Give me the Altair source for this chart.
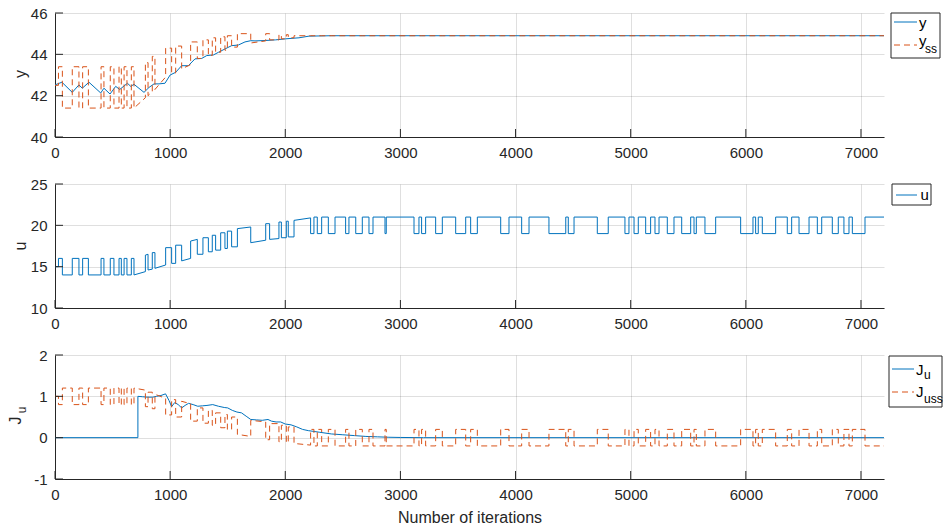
import altair as alt
import pandas as pd

# ---------------- axes ----------------
x_ticks = [0, 1000, 2000, 3000, 4000, 5000, 6000, 7000]
x_max = 7200
y_ticks = [40, 42, 44, 46]
u_ticks = [10, 15, 20, 25]
j_ticks = [-1, 0, 1, 2]

# ---------------- switching segments: start-up and transient phase ----------------
seg_t = [0, 30, 64, 150, 208, 240, 290, 400, 425, 480, 512, 556, 576, 600, 625, 663, 686,
         785, 808, 845, 868, 961, 1013, 1048, 1100, 1178, 1236, 1285, 1332, 1366, 1395, 1439,
         1476, 1497, 1534, 1584, 1700, 1830, 1864, 1945, 1966, 2009, 2026, 2076, 2220]

u_a = [15, 16, 14, 16, 14, 16, 14, 16, 14, 16, 14, 16, 14, 16, 14, 16,
       14.0, 16.4, 14.6, 16.7, 14.8, 17.3, 15.4, 17.6, 15.7, 18.1, 16.5, 18.5, 16.8, 18.8,
       17.0, 19.1, 17.2, 19.3, 17.4, 19.6, 17.9, 20.2, 18.3, 20.4, 18.5, 20.5, 18.6, 20.6]
u_b = [15, 16, 14, 16, 14, 16, 14, 16, 14, 16, 14, 16, 14, 16, 14, 16,
       14.4, 16.5, 14.7, 16.7, 15.2, 17.3, 15.4, 17.6, 16.0, 18.3, 16.5, 18.5, 16.8, 18.8,
       17.0, 19.1, 17.2, 19.3, 17.4, 19.8, 18.2, 20.2, 18.4, 20.4, 18.5, 20.5, 18.6, 20.9]

yss_a = [42.5, 43.4, 41.4, 43.4, 41.4, 43.4, 41.4, 43.4, 41.4, 43.4, 41.4, 43.4, 41.4, 43.4, 41.4, 43.4,
         41.4, 43.6, 42.0, 43.9, 42.3, 44.3, 43.1, 44.4, 43.3, 44.6, 43.8, 44.7, 43.95, 44.8,
         44.1, 44.85, 44.2, 44.9, 44.35, 45.0, 44.55, 45.0, 44.7, 44.95, 44.75, 44.95, 44.8, 44.9]
yss_b = [42.5, 43.4, 41.4, 43.4, 41.4, 43.4, 41.4, 43.4, 41.4, 43.4, 41.4, 43.4, 41.4, 43.4, 41.4, 43.4,
         41.9, 43.6, 42.2, 43.9, 42.9, 44.3, 43.1, 44.4, 43.5, 44.6, 43.8, 44.7, 43.95, 44.8,
         44.1, 44.85, 44.2, 44.9, 44.35, 45.0, 44.65, 45.0, 44.7, 44.95, 44.75, 44.95, 44.8, 44.9]

juss_a = [1.0, 0.8, 1.2, 0.8, 1.2, 0.8, 1.2, 0.8, 1.2, 0.8, 1.2, 0.8, 1.2, 0.8, 1.2, 0.8,
          1.2, 0.75, 1.1, 0.7, 1.05, 0.55, 0.92, 0.5, 0.88, 0.4, 0.72, 0.35, 0.66, 0.3,
          0.6, 0.24, 0.56, 0.2, 0.5, 0.08, 0.42, -0.05, 0.34, -0.1, 0.3, -0.12, 0.26, -0.14]
juss_b = [1.0, 0.8, 1.2, 0.8, 1.2, 0.8, 1.2, 0.8, 1.2, 0.8, 1.2, 0.8, 1.2, 0.8, 1.2, 0.8,
          1.15, 0.75, 1.1, 0.7, 0.95, 0.55, 0.92, 0.5, 0.82, 0.4, 0.72, 0.35, 0.66, 0.3,
          0.6, 0.24, 0.56, 0.2, 0.5, 0.03, 0.38, -0.05, 0.34, -0.1, 0.3, -0.12, 0.26, -0.18]

# ---------------- switching segments: steady phase (alternating, starting low) ----------------
late_t = [2220, 2249, 2278, 2316, 2374, 2432, 2524, 2553, 2612, 2669, 2727, 2762, 2866, 2877,
          3118, 3161, 3184, 3219, 3306, 3364, 3480, 3567, 3610, 3668, 3871, 3943, 4053, 4117,
          4290, 4436, 4458, 4508, 4710, 4805, 4950, 4985, 5029, 5066, 5130, 5173, 5211, 5246,
          5318, 5376, 5443, 5521, 5550, 5570, 5645, 5738, 5955, 6062, 6085, 6108, 6143, 6259,
          6360, 6398, 6462, 6549, 6621, 6659, 6751, 6803, 6852, 6896, 6925, 7035, 7200]
u_late = (19, 21)
yss_late = (44.9, 44.9)
juss_late = (0.2, -0.2)

# ---------------- measured output y and gradient J_u ----------------
y_x = [0, 60, 150, 208, 237, 295, 397, 425, 478, 527, 562, 629, 658, 686, 773, 817, 860, 903,
       955, 1000, 1048, 1100, 1158, 1216, 1274, 1318, 1376, 1420, 1476, 1534, 1592, 1650, 1700,
       1737, 1830, 1916, 2003, 2119, 2206, 2400, 7200]
y_v = [42.52, 42.65, 42.16, 42.52, 42.36, 42.65, 42.13, 42.36, 42.08, 42.45, 42.3, 42.6, 42.45,
       42.55, 42.16, 42.4, 42.57, 42.57, 42.6, 43.0, 43.13, 43.45, 43.45, 43.78, 43.8, 43.94,
       43.97, 44.1, 44.26, 44.42, 44.45, 44.6, 44.66, 44.65, 44.67, 44.7, 44.75, 44.8, 44.88,
       44.9, 44.9]

ju_x = [0, 720, 720, 760, 800, 850, 880, 920, 960, 990, 1013, 1040, 1070, 1100, 1130, 1160,
        1200, 1240, 1280, 1320, 1370, 1420, 1470, 1500, 1540, 1580, 1620, 1660, 1700, 1750,
        1800, 1850, 1880, 1920, 1960, 2000, 2050, 2100, 2150, 2200, 2250, 2300, 2400, 2500,
        2600, 2700, 2800, 2900, 3000, 3200, 7200]
ju_v = [0, 0, 1.0, 0.99, 0.98, 0.98, 1.0, 1.02, 1.06, 0.9, 0.75, 0.85, 0.8, 0.72, 0.78, 0.83,
        0.8, 0.76, 0.77, 0.78, 0.8, 0.76, 0.73, 0.72, 0.66, 0.62, 0.6, 0.52, 0.44, 0.43,
        0.42, 0.44, 0.4, 0.38, 0.38, 0.33, 0.31, 0.26, 0.2, 0.17, 0.15, 0.13, 0.09, 0.07,
        0.05, 0.03, 0.02, 0.01, 0.005, 0, 0]

# ---------------- styling ----------------
W, H = 829, 124
BLUE = "#0072BD"
ORANGE = "#D95319"
AX = "#262626"
FONT = "Liberation Sans"
DASH = [6, 4]


def step_frame(a, b, late):
    xs, vs = [], []
    for i in range(len(a)):
        xs += [seg_t[i], seg_t[i + 1]]
        vs += [a[i], b[i]]
    for k in range(len(late_t) - 1):
        lvl = late[k % 2]
        xs += [late_t[k], late_t[k + 1]]
        vs += [lvl, lvl]
    return pd.DataFrame({"x": xs, "v": vs, "i": list(range(len(xs)))})


def line_frame(xs, vs):
    return pd.DataFrame({"x": xs, "v": vs, "i": list(range(len(xs)))})


ONE = alt.Data(values=[{}])


def panel(series, ydom, yticks, xtitle, extras):
    xs = alt.Scale(domain=[0, x_max], nice=False, zero=False)
    ys = alt.Scale(domain=ydom, nice=False, zero=False)
    xaxis = alt.Axis(values=x_ticks, labelExpr="'' + datum.value", labelFlush=False,
                     ticks=False, grid=True, labelPadding=8, title=xtitle, titlePadding=7)
    yaxis = alt.Axis(values=yticks, labelExpr="'' + datum.value", ticks=False, grid=True,
                     labelPadding=8, title=None)
    layers = []
    for df, color, dash in series:
        kw = dict(color=color, strokeWidth=1)
        if dash:
            kw["strokeDash"] = DASH
        layers.append(
            alt.Chart(df).mark_line(**kw).encode(
                x=alt.X("x:Q", scale=xs, axis=xaxis),
                y=alt.Y("v:Q", scale=ys, axis=yaxis),
                order="i:Q",
            )
        )
    # inward tick marks (MATLAB style)
    layers.append(
        alt.Chart(pd.DataFrame({"x": x_ticks})).mark_rule(color=AX, strokeWidth=1).encode(
            x=alt.X("x:Q", scale=xs, axis=xaxis), y=alt.value(H), y2=alt.value(H - 8))
    )
    layers.append(
        alt.Chart(pd.DataFrame({"v": yticks})).mark_rule(color=AX, strokeWidth=1).encode(
            y=alt.Y("v:Q", scale=ys, axis=yaxis), x=alt.value(0), x2=alt.value(8))
    )
    layers += extras
    return alt.layer(*layers).properties(width=W, height=H)


def txt(s, x, y, size=15, color="black", angle=0, align="left", baseline="alphabetic"):
    kw = dict(font=FONT, fontSize=size, color=color, align=align, baseline=baseline)
    if angle:
        kw["angle"] = angle
    return alt.Chart(ONE).mark_text(**kw).encode(
        x=alt.value(x), y=alt.value(y), text=alt.value(s))


def box(x0, x1, y0, y1):
    return alt.Chart(ONE).mark_rect(fill="white", stroke=AX, strokeWidth=1).encode(
        x=alt.value(x0), x2=alt.value(x1), y=alt.value(y0), y2=alt.value(y1))


def sample(x0, x1, y, color, dash):
    kw = dict(color=color, strokeWidth=1)
    if dash:
        kw["strokeDash"] = DASH
    return alt.Chart(ONE).mark_rule(**kw).encode(
        x=alt.value(x0), x2=alt.value(x1), y=alt.value(y))


# ---------------- panels ----------------
top = panel(
    [(line_frame(y_x, y_v), BLUE, False), (step_frame(yss_a, yss_b, yss_late), ORANGE, True)],
    [40, 46], y_ticks, None,
    [
        txt("y", -34, 61, size=16, color=AX, angle=270, align="center", baseline="middle"),
        box(836, 885, 0, 45),
        sample(839, 862, 9, BLUE, False),
        txt("y", 864, 14.5),
        sample(839, 862, 32, ORANGE, True),
        txt("y", 864, 33),
        txt("ss", 870, 40, size=12),
    ],
)

mid = panel(
    [(step_frame(u_a, u_b, u_late), BLUE, False)],
    [10, 25], u_ticks, None,
    [
        txt("u", -34.5, 62, size=16, color=AX, angle=270, align="center", baseline="middle"),
        box(837, 876, 0, 21),
        sample(841, 862, 11, BLUE, False),
        txt("u", 865.5, 15.5),
    ],
)

bot = panel(
    [(line_frame(ju_x, ju_v), BLUE, False), (step_frame(juss_a, juss_b, juss_late), ORANGE, True)],
    [-1, 2], j_ticks, "Number of iterations",
    [
        txt("J", -39, 65.5, size=16, color=AX, angle=270, align="center", baseline="middle"),
        txt("u", -33, 55, size=12, color=AX, angle=270, align="center", baseline="middle"),
        box(834, 887, 1, 52),
        sample(837, 859, 14, BLUE, False),
        txt("J", 861, 19.5),
        txt("u", 869, 24, size=12),
        sample(837, 859, 37, ORANGE, True),
        txt("J", 861, 41.5),
        txt("uss", 869, 48, size=12),
    ],
)

chart = (
    alt.vconcat(top, mid, bot, spacing=47, bounds="flush")
    .properties(padding={"left": 8, "top": 6, "right": 0, "bottom": 0}, background="white")
    .configure_view(strokeWidth=0)
    .configure_axis(
        domainColor=AX, domainWidth=1, gridColor=AX, gridOpacity=0.15, gridWidth=1,
        labelColor=AX, labelFont=FONT, labelFontSize=15, titleFont=FONT, titleFontSize=16,
        titleColor=AX, titleFontWeight="normal",
    )
)

chart.save("out.html", embed_options={"renderer": "svg", "actions": False})
